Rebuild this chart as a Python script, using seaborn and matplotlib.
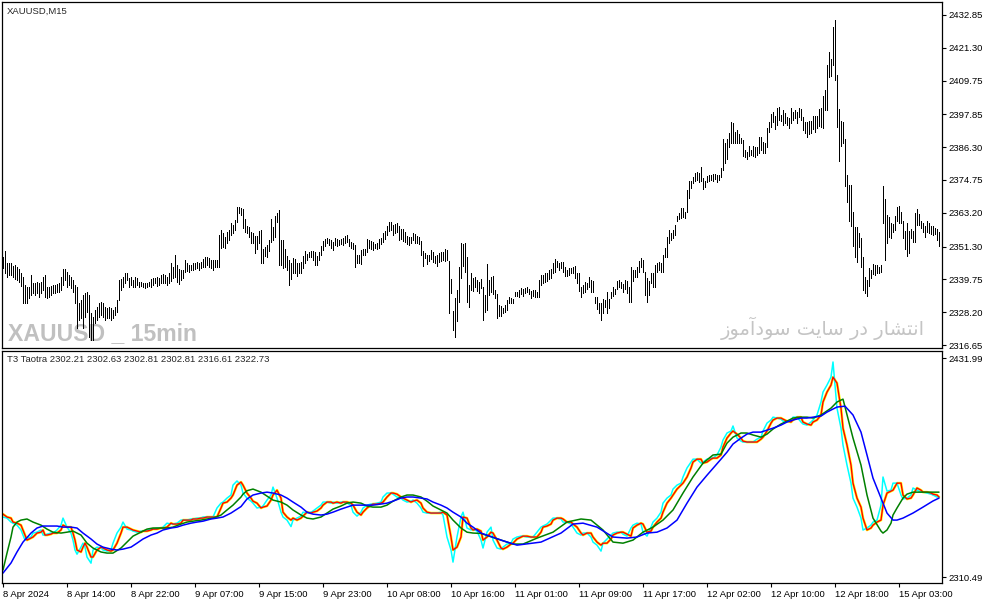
import numpy as np
import pandas as pd
import matplotlib
matplotlib.use("Agg")
import matplotlib.pyplot as plt
import seaborn as sns

# ---- price bars (M15) ----
bar_high = [
    2347.6, 2349.7, 2345.5, 2345.5, 2345.5, 2344.5, 2344.8, 2344.1, 2343.4, 2342.0,
    2340.6, 2337.8, 2337.1, 2337.1, 2341.3, 2338.5, 2338.5, 2338.8, 2338.5, 2338.8,
    2340.6, 2341.3, 2337.1, 2337.1, 2337.4, 2337.8, 2337.8, 2338.1, 2338.5, 2340.6,
    2343.4, 2343.4, 2342.4, 2341.3, 2340.6, 2339.5, 2337.8, 2337.1, 2331.4, 2332.5,
    2334.3, 2335.0, 2335.3, 2334.3, 2327.9, 2326.5, 2329.0, 2330.0, 2331.4, 2331.8,
    2331.4, 2330.0, 2329.7, 2330.0, 2329.7, 2329.0, 2330.0, 2332.5, 2339.5, 2339.9,
    2340.6, 2342.0, 2342.0, 2340.2, 2340.6, 2339.5, 2340.6, 2340.2, 2338.8, 2338.8,
    2338.5, 2338.5, 2338.5, 2338.8, 2339.9, 2340.2, 2340.2, 2340.6, 2340.2, 2341.3,
    2341.6, 2341.3, 2340.6, 2342.0, 2345.5, 2344.1, 2348.3, 2344.8, 2343.4, 2343.1,
    2343.1, 2346.6, 2345.5, 2344.8, 2344.8, 2345.5, 2345.5, 2345.9, 2345.5, 2345.9,
    2346.9, 2347.6, 2347.6, 2347.3, 2346.6, 2346.6, 2346.6, 2346.6, 2355.4, 2357.1,
    2356.1, 2354.7, 2356.4, 2357.1, 2359.6, 2358.9, 2360.7, 2365.2, 2365.2, 2364.9,
    2364.5, 2361.0, 2358.5, 2358.2, 2356.4, 2356.1, 2355.0, 2355.0, 2356.8, 2357.1,
    2350.5, 2351.2, 2351.9, 2353.6, 2361.0, 2358.2, 2362.1, 2363.1, 2364.2, 2353.6,
    2353.6, 2350.5, 2348.0, 2346.6, 2345.5, 2347.3, 2346.9, 2345.5, 2345.5, 2345.9,
    2348.0, 2349.7, 2348.7, 2349.4, 2349.7, 2349.7, 2349.4, 2348.0, 2349.4, 2351.5,
    2353.3, 2354.0, 2354.3, 2354.0, 2353.6, 2352.9, 2354.3, 2354.0, 2353.6, 2354.0,
    2354.3, 2355.0, 2355.4, 2354.0, 2352.9, 2352.6, 2351.9, 2348.3, 2348.3, 2350.1,
    2350.5, 2350.5, 2354.0, 2353.6, 2353.3, 2352.9, 2352.2, 2352.6, 2354.0, 2354.3,
    2356.1, 2356.8, 2358.5, 2360.0, 2360.0, 2358.9, 2359.3, 2359.6, 2358.5, 2357.5,
    2357.5, 2356.4, 2355.0, 2354.7, 2354.7, 2356.1, 2355.7, 2355.0, 2354.7, 2353.3,
    2349.7, 2349.0, 2348.3, 2348.3, 2350.1, 2349.4, 2348.0, 2348.3, 2349.0, 2349.4,
    2349.4, 2350.5, 2350.1, 2346.2, 2339.9, 2328.6, 2333.2, 2336.0, 2344.1, 2352.6,
    2352.2, 2352.6, 2347.6, 2337.8, 2342.0, 2340.2, 2340.6, 2339.5, 2338.8, 2339.9,
    2337.1, 2334.3, 2345.2, 2339.5, 2340.6, 2340.9, 2336.0, 2334.6, 2330.7, 2330.4,
    2329.7, 2330.7, 2332.5, 2333.6, 2333.2, 2332.9, 2335.3, 2335.3, 2336.0, 2336.7,
    2336.4, 2336.7, 2337.1, 2336.4, 2335.7, 2336.0, 2336.0, 2335.3, 2339.5, 2341.3,
    2341.3, 2342.0, 2342.0, 2343.1, 2343.4, 2345.5, 2346.9, 2346.2, 2345.5, 2345.9,
    2345.9, 2344.1, 2343.1, 2343.8, 2343.8, 2344.1, 2344.5, 2342.0, 2342.0, 2337.1,
    2337.8, 2338.8, 2338.5, 2340.6, 2339.5, 2339.2, 2333.6, 2333.6, 2331.4, 2331.4,
    2332.9, 2332.5, 2335.3, 2332.9, 2335.3, 2337.1, 2336.4, 2339.2, 2339.5, 2338.8,
    2338.1, 2339.5, 2339.2, 2337.1, 2344.1, 2343.1, 2343.1, 2344.1, 2346.2, 2347.3,
    2346.6, 2342.4, 2340.2, 2339.2, 2342.0, 2342.0, 2344.8, 2345.5, 2345.9, 2345.5,
    2348.3, 2350.8, 2354.7, 2357.1, 2356.1, 2357.1, 2358.9, 2362.1, 2363.1, 2364.9,
    2364.9, 2363.5, 2371.2, 2374.4, 2374.4, 2375.8, 2377.2, 2377.6, 2377.2, 2379.3,
    2375.4, 2374.4, 2376.1, 2376.5, 2376.5, 2376.8, 2376.8, 2376.5, 2376.5, 2379.0,
    2389.2, 2387.8, 2389.2, 2391.3, 2395.2, 2394.8, 2391.6, 2392.3, 2390.9, 2389.5,
    2388.8, 2385.3, 2384.6, 2386.7, 2385.3, 2386.7, 2386.4, 2386.4, 2389.9, 2389.9,
    2388.1, 2387.8, 2393.0, 2395.2, 2398.0, 2398.7, 2397.3, 2400.1, 2400.4, 2397.6,
    2399.4, 2398.3, 2396.9, 2396.6, 2400.1, 2398.7, 2399.4, 2398.7, 2400.1, 2399.7,
    2396.9, 2395.2, 2395.2, 2395.5, 2395.5, 2397.3, 2397.3, 2397.3, 2399.7, 2400.1,
    2404.3, 2406.4, 2415.2, 2419.8, 2417.3, 2428.6, 2431.1, 2411.7, 2399.7, 2395.5,
    2395.2, 2389.2, 2376.5, 2373.0, 2373.0, 2363.5, 2358.2, 2358.2, 2356.1, 2354.3,
    2347.6, 2340.6, 2339.5, 2343.8, 2343.1, 2345.2, 2344.8, 2344.8, 2344.1, 2344.8,
    2372.6, 2368.1, 2362.4, 2361.7, 2359.6, 2359.3, 2362.1, 2365.2, 2365.6, 2363.5,
    2360.3, 2356.8, 2359.6, 2356.8, 2357.5, 2356.8, 2363.1, 2364.5, 2362.8, 2360.3,
    2359.6, 2358.5, 2360.3, 2359.6, 2358.5, 2358.5, 2357.8, 2357.5, 2356.4,
]
bar_low = [
    2343.8, 2342.0, 2340.6, 2341.3, 2341.3, 2340.6, 2339.9, 2339.5, 2338.8, 2337.4,
    2331.4, 2331.4, 2331.4, 2333.2, 2334.3, 2335.0, 2334.3, 2335.0, 2333.6, 2335.0,
    2336.0, 2333.6, 2333.2, 2333.6, 2334.3, 2335.0, 2335.0, 2335.3, 2335.3, 2336.0,
    2337.8, 2339.5, 2337.1, 2337.8, 2336.7, 2335.3, 2331.4, 2322.6, 2325.5, 2326.2,
    2322.6, 2326.5, 2328.3, 2319.5, 2318.4, 2318.4, 2324.4, 2325.5, 2326.5, 2327.2,
    2326.5, 2325.5, 2326.2, 2326.2, 2325.5, 2326.2, 2327.2, 2328.3, 2332.5, 2336.0,
    2337.1, 2338.5, 2339.5, 2337.1, 2337.8, 2337.1, 2337.1, 2337.8, 2337.1, 2337.4,
    2337.1, 2336.7, 2337.1, 2337.4, 2337.1, 2337.8, 2338.5, 2337.4, 2337.8, 2338.5,
    2338.5, 2338.5, 2337.8, 2338.5, 2339.2, 2340.2, 2340.6, 2338.8, 2338.1, 2339.5,
    2340.2, 2342.4, 2342.7, 2342.4, 2343.1, 2343.1, 2343.4, 2343.8, 2343.1, 2343.8,
    2344.1, 2344.1, 2344.8, 2344.1, 2343.8, 2343.1, 2344.1, 2344.1, 2344.1, 2350.8,
    2351.2, 2350.8, 2352.6, 2353.6, 2355.4, 2356.1, 2357.1, 2360.0, 2363.1, 2362.4,
    2357.8, 2356.4, 2356.1, 2354.7, 2352.6, 2352.6, 2349.0, 2350.5, 2352.6, 2345.5,
    2345.5, 2348.0, 2347.6, 2349.7, 2352.9, 2353.6, 2354.7, 2360.0, 2344.8, 2344.8,
    2343.8, 2344.1, 2343.1, 2337.8, 2339.9, 2342.0, 2342.0, 2340.9, 2342.0, 2342.0,
    2343.8, 2345.5, 2346.6, 2347.6, 2347.6, 2346.6, 2344.8, 2344.8, 2346.6, 2348.3,
    2350.1, 2351.5, 2352.6, 2351.9, 2350.8, 2350.1, 2351.9, 2351.5, 2351.9, 2352.2,
    2351.9, 2352.6, 2352.9, 2351.5, 2350.8, 2350.5, 2344.1, 2345.5, 2345.5, 2345.2,
    2348.3, 2348.3, 2349.4, 2350.8, 2350.5, 2350.1, 2350.8, 2350.5, 2350.8, 2352.2,
    2352.9, 2354.0, 2355.4, 2356.8, 2357.1, 2355.4, 2356.1, 2356.4, 2353.6, 2354.0,
    2353.3, 2352.9, 2352.2, 2351.9, 2352.6, 2353.6, 2352.6, 2352.6, 2352.2, 2348.3,
    2344.5, 2347.3, 2345.2, 2346.2, 2346.9, 2345.9, 2345.5, 2344.5, 2345.9, 2346.2,
    2346.6, 2346.2, 2346.6, 2327.9, 2335.0, 2321.9, 2319.5, 2325.1, 2331.8, 2340.2,
    2344.5, 2342.4, 2331.8, 2330.0, 2336.0, 2335.7, 2337.1, 2335.7, 2335.0, 2336.7,
    2325.5, 2328.3, 2329.0, 2334.3, 2335.3, 2334.6, 2333.2, 2326.2, 2326.9, 2326.9,
    2327.9, 2328.3, 2329.0, 2331.4, 2331.4, 2331.4, 2333.9, 2333.9, 2333.6, 2334.6,
    2333.9, 2335.0, 2335.3, 2334.6, 2333.2, 2333.9, 2333.6, 2333.6, 2333.6, 2337.8,
    2338.5, 2338.8, 2339.2, 2339.9, 2340.2, 2342.0, 2342.4, 2344.1, 2343.1, 2343.8,
    2342.4, 2340.9, 2340.9, 2341.3, 2342.0, 2342.0, 2340.2, 2338.5, 2335.7, 2333.6,
    2335.0, 2335.3, 2336.4, 2337.1, 2335.3, 2335.3, 2331.4, 2329.3, 2327.9, 2325.5,
    2327.9, 2330.0, 2327.9, 2329.7, 2333.2, 2333.9, 2334.6, 2336.4, 2337.1, 2336.7,
    2335.3, 2336.4, 2335.0, 2331.8, 2331.8, 2339.2, 2340.6, 2340.6, 2342.4, 2344.1,
    2342.4, 2334.3, 2331.8, 2334.3, 2338.5, 2337.1, 2337.1, 2342.4, 2343.1, 2342.4,
    2342.4, 2347.6, 2347.6, 2352.6, 2353.6, 2354.3, 2355.4, 2360.3, 2361.0, 2361.4,
    2361.7, 2361.4, 2363.5, 2368.4, 2371.9, 2373.7, 2374.4, 2374.7, 2374.0, 2374.4,
    2371.6, 2372.3, 2374.0, 2374.4, 2374.7, 2374.4, 2375.1, 2374.0, 2374.7, 2375.8,
    2378.3, 2380.7, 2382.1, 2386.4, 2387.8, 2387.8, 2387.8, 2387.8, 2387.8, 2387.8,
    2383.2, 2382.8, 2382.1, 2383.2, 2383.5, 2383.2, 2382.8, 2383.5, 2384.2, 2385.3,
    2384.2, 2384.2, 2386.4, 2391.6, 2393.4, 2395.2, 2392.7, 2394.1, 2395.9, 2395.5,
    2394.1, 2394.8, 2394.1, 2393.0, 2394.8, 2395.9, 2396.6, 2394.8, 2396.9, 2395.9,
    2392.3, 2391.3, 2389.9, 2390.9, 2391.3, 2392.7, 2391.6, 2393.0, 2393.7, 2393.4,
    2393.0, 2399.4, 2399.4, 2411.0, 2411.3, 2415.2, 2409.9, 2393.4, 2381.4, 2386.7,
    2387.8, 2372.6, 2367.0, 2360.3, 2358.5, 2351.5, 2347.6, 2345.9, 2351.2, 2344.1,
    2336.0, 2335.0, 2333.9, 2337.4, 2340.2, 2341.6, 2341.3, 2342.0, 2342.0, 2342.4,
    2359.6, 2346.6, 2352.6, 2354.7, 2354.3, 2356.4, 2357.1, 2360.3, 2359.6, 2359.6,
    2354.3, 2350.5, 2348.0, 2349.0, 2354.3, 2352.9, 2352.9, 2358.9, 2358.9, 2357.8,
    2356.4, 2354.7, 2356.4, 2356.1, 2355.7, 2355.4, 2355.7, 2353.6, 2351.5,
]

# ---- T3 lines (indicator window), sampled positions are bar numbers ----
fast_idx = [
    0, 2, 4, 5, 7, 9, 10, 11, 12, 14,
    15, 17, 19, 20, 21, 22, 24, 25, 27, 29,
    30, 32, 34, 35, 36, 37, 39, 40, 41, 42,
    44, 45, 47, 49, 50, 52, 54, 55, 57, 59,
    60, 62, 64, 65, 67, 69, 70, 72, 74, 75,
    77, 79, 80, 82, 84, 85, 87, 89, 90, 92,
    94, 95, 97, 99, 100, 102, 104, 105, 107, 109,
    110, 112, 114, 115, 117, 119, 120, 122, 124, 125,
    127, 129, 130, 132, 134, 135, 137, 139, 140, 142,
    144, 145, 147, 149, 150, 152, 154, 155, 157, 159,
    160, 162, 164, 165, 167, 169, 170, 172, 174, 175,
    177, 179, 180, 182, 184, 185, 187, 189, 190, 192,
    194, 195, 197, 199, 200, 202, 204, 205, 207, 209,
    210, 212, 214, 215, 217, 219, 220, 222, 224, 225,
    227, 229, 230, 232, 234, 235, 237, 239, 240, 242,
    244, 245, 247, 249, 250, 252, 254, 255, 257, 259,
    260, 262, 264, 265, 267, 269, 270, 272, 274, 275,
    277, 279, 280, 282, 284, 285, 287, 289, 290, 292,
    294, 295, 297, 299, 300, 302, 304, 305, 307, 309,
    310, 312, 314, 315, 317, 319, 320, 322, 324, 325,
    327, 329, 330, 332, 334, 335, 337, 339, 340, 342,
    344, 345, 347, 349, 350, 352, 354, 355, 357, 359,
    360, 362, 364, 365, 367, 369, 370, 372, 374, 375,
    377, 379, 380, 382, 384, 385, 387, 389, 390, 392,
    394, 395, 397, 399, 400, 402, 404, 405, 407, 409,
    410, 412, 414, 415, 417, 419, 420, 422, 424, 425,
    427, 429, 430, 432, 434, 435, 437, 439, 440, 442,
    444, 445, 447, 449, 450, 452, 454, 455, 457, 459,
    460, 462, 464, 465, 467, 468,
]
red_vals = [
    2345.4, 2343.8, 2343.2, 2341.0, 2340.4, 2339.3, 2336.6, 2333.8, 2331.0, 2332.1,
    2332.7, 2334.9, 2335.4, 2336.6, 2333.8, 2333.8, 2334.3, 2334.9, 2334.9, 2336.6,
    2339.3, 2338.2, 2338.2, 2334.9, 2331.0, 2325.5, 2324.4, 2327.1, 2329.3, 2327.1,
    2321.6, 2321.6, 2325.5, 2327.1, 2326.6, 2325.5, 2324.9, 2325.5, 2329.3, 2334.9,
    2338.2, 2338.2, 2337.1, 2336.6, 2336.0, 2335.4, 2336.0, 2336.0, 2336.6, 2337.1,
    2337.1, 2337.7, 2337.7, 2338.2, 2340.4, 2339.9, 2339.9, 2340.4, 2342.1, 2342.1,
    2342.1, 2342.7, 2342.7, 2343.2, 2343.2, 2343.8, 2343.8, 2343.8, 2343.8, 2348.8,
    2351.5, 2352.1, 2354.3, 2356.0, 2361.5, 2363.2, 2361.5, 2357.1, 2354.3, 2352.6,
    2351.5, 2348.8, 2349.3, 2349.9, 2353.2, 2356.0, 2358.7, 2354.3, 2346.5, 2343.8,
    2342.1, 2343.2, 2342.1, 2343.2, 2344.3, 2346.5, 2346.0, 2346.5, 2347.1, 2348.8,
    2350.4, 2352.1, 2352.1, 2351.5, 2352.1, 2351.5, 2352.1, 2352.1, 2351.5, 2350.4,
    2346.5, 2344.9, 2346.5, 2348.8, 2350.4, 2351.0, 2351.0, 2351.5, 2352.1, 2354.9,
    2357.1, 2357.1, 2356.5, 2354.9, 2354.3, 2353.2, 2352.1, 2352.6, 2353.2, 2351.5,
    2348.8, 2346.5, 2346.0, 2346.0, 2346.0, 2346.0, 2346.5, 2344.9, 2332.7, 2325.5,
    2327.1, 2332.7, 2343.8, 2343.2, 2337.7, 2336.6, 2337.1, 2336.0, 2331.0, 2332.7,
    2335.4, 2334.9, 2331.0, 2326.6, 2326.0, 2327.1, 2328.8, 2329.3, 2331.6, 2332.7,
    2333.2, 2333.2, 2332.7, 2332.7, 2332.7, 2335.4, 2338.2, 2338.8, 2339.9, 2342.1,
    2343.2, 2343.2, 2342.7, 2341.0, 2341.0, 2339.9, 2338.2, 2334.9, 2333.8, 2334.9,
    2334.9, 2332.7, 2329.9, 2328.2, 2329.3, 2329.3, 2331.6, 2333.8, 2334.9, 2335.4,
    2335.4, 2334.3, 2333.2, 2337.7, 2339.3, 2340.4, 2339.9, 2335.4, 2336.0, 2338.2,
    2341.0, 2343.2, 2346.5, 2351.5, 2354.3, 2356.0, 2359.3, 2361.5, 2362.6, 2366.0,
    2371.0, 2374.3, 2375.9, 2375.9, 2373.7, 2374.3, 2375.9, 2376.5, 2376.5, 2378.2,
    2382.6, 2387.6, 2390.4, 2391.5, 2389.8, 2387.6, 2385.9, 2385.4, 2385.4, 2385.4,
    2385.4, 2387.0, 2388.1, 2391.5, 2395.9, 2397.6, 2398.7, 2398.7, 2398.1, 2397.0,
    2396.5, 2397.6, 2399.2, 2399.2, 2396.5, 2395.4, 2394.8, 2396.5, 2397.6, 2400.4,
    2407.6, 2413.1, 2417.0, 2421.4, 2418.1, 2404.2, 2393.1, 2383.7, 2372.6, 2362.6,
    2354.3, 2349.3, 2343.2, 2336.6, 2337.7, 2339.3, 2341.0, 2342.1, 2350.4, 2357.1,
    2358.2, 2358.7, 2362.6, 2362.6, 2356.0, 2353.8, 2354.3, 2356.0, 2359.9, 2358.7,
    2357.6, 2357.6, 2357.1, 2356.5, 2356.0, 2354.9,
]
cyan_vals = [
    2343.8, 2343.2, 2341.0, 2340.4, 2339.3, 2336.6, 2333.8, 2331.0, 2332.1, 2332.7,
    2334.9, 2335.4, 2336.6, 2333.8, 2333.8, 2334.3, 2334.9, 2334.9, 2336.6, 2339.3,
    2343.2, 2338.2, 2334.9, 2331.0, 2325.5, 2323.2, 2327.1, 2329.3, 2327.1, 2321.6,
    2318.2, 2325.5, 2327.1, 2326.6, 2325.5, 2324.9, 2325.5, 2329.3, 2334.9, 2338.2,
    2341.0, 2337.1, 2336.6, 2336.0, 2335.4, 2336.0, 2336.0, 2336.6, 2337.1, 2337.1,
    2337.7, 2337.7, 2338.2, 2340.4, 2339.9, 2339.9, 2340.4, 2342.1, 2342.1, 2342.1,
    2342.7, 2342.7, 2343.2, 2343.2, 2343.8, 2343.8, 2343.8, 2343.8, 2348.8, 2351.5,
    2352.1, 2354.3, 2356.0, 2361.5, 2363.8, 2361.5, 2357.1, 2354.3, 2352.6, 2351.5,
    2348.8, 2349.3, 2349.9, 2353.2, 2356.0, 2360.4, 2354.3, 2346.5, 2343.8, 2342.1,
    2338.5, 2342.1, 2343.2, 2344.3, 2346.5, 2346.0, 2346.5, 2347.1, 2348.8, 2350.4,
    2352.1, 2352.1, 2351.5, 2352.1, 2351.5, 2352.1, 2352.1, 2351.5, 2350.4, 2346.5,
    2344.3, 2346.5, 2348.8, 2350.4, 2351.0, 2351.0, 2351.5, 2352.1, 2354.9, 2357.1,
    2357.1, 2356.5, 2354.9, 2354.3, 2353.2, 2352.1, 2352.6, 2353.2, 2351.5, 2348.8,
    2346.5, 2346.0, 2346.0, 2346.0, 2346.0, 2346.5, 2344.9, 2332.7, 2325.5, 2318.8,
    2332.7, 2343.8, 2346.5, 2337.7, 2336.6, 2337.1, 2336.0, 2331.0, 2326.6, 2335.4,
    2338.2, 2331.0, 2326.6, 2326.0, 2327.1, 2328.8, 2329.3, 2331.6, 2332.7, 2333.2,
    2333.2, 2332.7, 2332.7, 2332.7, 2335.4, 2338.2, 2338.8, 2339.9, 2342.1, 2343.2,
    2343.2, 2342.7, 2341.0, 2341.0, 2339.9, 2338.2, 2334.9, 2333.8, 2334.9, 2334.9,
    2332.7, 2329.9, 2328.2, 2324.9, 2329.3, 2331.6, 2333.8, 2334.9, 2335.4, 2335.4,
    2334.3, 2333.2, 2337.7, 2339.3, 2340.4, 2339.9, 2335.4, 2333.2, 2338.2, 2341.0,
    2343.2, 2346.5, 2351.5, 2354.3, 2356.0, 2359.3, 2361.5, 2362.6, 2366.0, 2371.0,
    2374.3, 2375.9, 2375.9, 2373.7, 2374.3, 2375.9, 2376.5, 2376.5, 2378.2, 2382.6,
    2386.5, 2390.4, 2391.5, 2394.3, 2387.6, 2385.9, 2385.4, 2385.4, 2385.4, 2385.4,
    2387.0, 2388.1, 2391.5, 2395.9, 2397.6, 2399.2, 2398.7, 2398.1, 2397.0, 2396.5,
    2397.6, 2399.2, 2399.2, 2396.5, 2395.4, 2394.8, 2396.5, 2397.6, 2400.4, 2407.6,
    2413.1, 2417.0, 2421.4, 2429.8, 2404.2, 2393.1, 2383.7, 2372.6, 2362.6, 2354.3,
    2349.3, 2343.2, 2336.6, 2337.7, 2339.3, 2341.0, 2342.1, 2350.4, 2366.0, 2358.2,
    2358.7, 2362.6, 2362.6, 2356.0, 2353.8, 2354.3, 2356.0, 2359.9, 2358.7, 2357.6,
    2357.6, 2357.1, 2356.5, 2356.0, 2354.9, 2354.9,
]
green_idx = [
    0, 2, 4, 5, 7, 9, 12, 15, 19, 22, 25, 29, 32, 35, 39, 42, 45, 49, 52, 55,
    59, 62, 65, 69, 72, 75, 82, 85, 89, 92, 95, 99, 102, 105, 109, 112, 115, 119, 120, 122,
    125, 129, 132, 135, 139, 142, 145, 149, 152, 155, 159, 162, 165, 169, 172, 175, 179, 182, 185, 189,
    192, 195, 199, 202, 205, 209, 212, 215, 219, 222, 225, 229, 232, 235, 239, 249, 255, 260, 267, 275,
    282, 289, 294, 300, 305, 310, 315, 320, 325, 330, 335, 340, 345, 350, 355, 359, 362, 365, 369, 372,
    375, 379, 382, 385, 389, 392, 395, 399, 402, 405, 409, 414, 417, 420, 425, 429, 432, 435, 439, 440,
    442, 444, 445, 447, 450, 452, 455, 468,
]
green_vals = [
    2314.4, 2323.8, 2332.7, 2338.2, 2341.0, 2342.1, 2342.7, 2341.0, 2339.3, 2337.1,
    2335.4, 2334.9, 2335.4, 2336.0, 2333.8, 2329.3, 2326.6, 2324.4, 2323.8, 2323.8,
    2326.6, 2329.9, 2333.2, 2335.4, 2337.1, 2337.7, 2337.7, 2338.2, 2339.9, 2341.0,
    2341.5, 2342.1, 2342.7, 2343.2, 2344.9, 2347.7, 2350.4, 2354.9, 2356.5, 2358.4,
    2359.3, 2357.6, 2355.4, 2353.2, 2352.1, 2350.4, 2347.7, 2344.9, 2343.2, 2342.7,
    2343.8, 2346.0, 2348.2, 2349.9, 2351.5, 2352.1, 2351.5, 2349.9, 2349.3, 2349.3,
    2350.4, 2352.6, 2354.9, 2356.0, 2356.0, 2354.9, 2352.6, 2349.9, 2347.7, 2346.0,
    2342.1, 2337.7, 2335.4, 2334.9, 2334.7, 2331.0, 2328.8, 2328.8, 2332.1, 2335.4,
    2341.0, 2342.7, 2342.1, 2336.6, 2329.9, 2329.3, 2331.0, 2335.4, 2338.2, 2342.1,
    2347.7, 2357.1, 2366.0, 2373.7, 2378.2, 2378.7, 2384.8, 2388.1, 2390.4, 2390.4,
    2389.3, 2388.1, 2389.8, 2392.6, 2395.4, 2397.0, 2398.7, 2399.2, 2399.2, 2398.7,
    2400.4, 2404.2, 2407.6, 2409.2, 2387.6, 2372.6, 2356.0, 2343.2, 2336.0, 2334.9,
    2336.6, 2340.4, 2344.9, 2348.8, 2354.3, 2356.5, 2357.6, 2357.6,
]
blue_idx = [
    0, 4, 7, 10, 14, 17, 20, 24, 27, 30, 34, 37, 40, 44, 47, 50, 54, 57, 60, 64,
    67, 70, 74, 77, 80, 84, 87, 90, 94, 97, 100, 104, 107, 110, 114, 119, 122, 125, 129, 132,
    135, 139, 142, 145, 149, 152, 155, 159, 162, 165, 169, 172, 175, 179, 182, 185, 189, 192, 195, 199,
    202, 205, 209, 212, 215, 219, 222, 225, 229, 232, 235, 239, 249, 257, 269, 279, 285, 290, 297, 305,
    312, 317, 322, 327, 332, 337, 342, 347, 352, 359, 362, 365, 369, 372, 375, 379, 382, 385, 389, 392,
    395, 399, 402, 405, 409, 412, 415, 417, 421, 425, 429, 432, 435, 439, 442, 445, 447, 450, 455, 460,
    465, 468,
]
blue_vals = [
    2312.7, 2318.3, 2324.4, 2329.9, 2334.9, 2337.7, 2338.8, 2338.8, 2338.8, 2338.2,
    2338.2, 2337.7, 2334.9, 2331.6, 2328.8, 2327.1, 2326.0, 2325.5, 2326.0, 2327.1,
    2329.3, 2331.6, 2333.8, 2334.9, 2336.6, 2337.7, 2338.2, 2339.3, 2340.4, 2341.0,
    2341.5, 2342.7, 2343.2, 2343.8, 2346.0, 2349.6, 2353.8, 2356.0, 2357.1, 2357.6,
    2357.1, 2356.0, 2354.3, 2352.1, 2349.3, 2346.5, 2345.4, 2344.9, 2345.4, 2346.5,
    2348.2, 2349.3, 2350.4, 2350.4, 2350.4, 2350.4, 2351.0, 2351.5, 2352.6, 2354.3,
    2354.9, 2354.9, 2354.3, 2353.8, 2352.1, 2350.4, 2348.8, 2346.5, 2343.8, 2340.4,
    2338.2, 2334.9, 2331.0, 2328.2, 2329.9, 2334.9, 2339.9, 2340.4, 2338.2, 2332.7,
    2332.1, 2332.7, 2334.9, 2335.4, 2337.7, 2342.1, 2351.5, 2360.4, 2367.0, 2375.9,
    2379.8, 2384.3, 2387.6, 2389.8, 2390.9, 2390.9, 2392.0, 2393.1, 2394.8, 2396.5,
    2397.6, 2398.7, 2398.7, 2399.2, 2399.8, 2402.0, 2403.7, 2404.8, 2405.3, 2400.4,
    2390.9, 2378.2, 2365.4, 2354.3, 2346.0, 2342.1, 2342.1, 2343.2, 2346.0, 2349.3,
    2352.7, 2354.3,
]

# ---- axis texts ----
price_ticks = [2432.85, 2421.30, 2409.75, 2397.85, 2386.30, 2374.75,
               2363.20, 2351.30, 2339.75, 2328.20, 2316.65]
t3_ticks = [2431.99, 2310.49]
time_tick_bars = [0, 32, 64, 96, 128, 160, 192, 224, 256, 288, 320, 352, 384, 416, 448]
time_tick_labels = ["8 Apr 2024", "8 Apr 14:00", "8 Apr 22:00", "9 Apr 07:00",
                    "9 Apr 15:00", "9 Apr 23:00", "10 Apr 08:00", "10 Apr 16:00",
                    "11 Apr 01:00", "11 Apr 09:00", "11 Apr 17:00", "12 Apr 02:00",
                    "12 Apr 10:00", "12 Apr 18:00", "15 Apr 03:00"]
t3_legend = "T3 Taotra 2302.21 2302.63 2302.81 2302.81 2316.61 2322.73"
# "انتشار در سایت سودآموز" written with Arabic presentation forms in visual order
site_mark = ("\uFEAF\uFEEE\uFEE3\uFE81\uFEA9\uFEEE\uFEB3 \uFE96\uFEF3\uFE8E\uFEB3 "
             "\uFEAD\uFEA9 \uFEAD\uFE8E\uFEB8\uFE98\uFEE7\uFE8D")

assert len(bar_high) == len(bar_low)
assert len(fast_idx) == len(red_vals) == len(cyan_vals)
assert len(green_idx) == len(green_vals)
assert len(blue_idx) == len(blue_vals)

sns.set_style("white")
plt.rcParams["font.family"] = ["Liberation Sans", "DejaVu Sans"]

W, H = 987, 605
fig = plt.figure(figsize=(W / 100, H / 100), dpi=100)
ax_top = fig.add_axes([2 / W, 1 - 348 / H, 940 / W, 346 / H])
ax_low = fig.add_axes([2 / W, 1 - 583 / H, 940 / W, 232 / H])

# watermarks sit under the price bars
ax_top.text(8 / W, 1 - 340 / H, "XAUUSD _ 15min", transform=fig.transFigure,
            fontsize=16.6, fontweight="bold", family=["Liberation Sans", "DejaVu Sans"],
            color="#c0c0c0", va="baseline", ha="left", zorder=0)
ax_top.text(925 / W, 1 - 335 / H, site_mark, transform=fig.transFigure,
            fontsize=14, family=["DejaVu Sans"], color="#c4c4c4",
            va="baseline", ha="right", zorder=0)

bars = pd.DataFrame({"bar": np.arange(len(bar_high)), "high": bar_high, "low": bar_low})
ax_top.vlines(bars["bar"], bars["low"], bars["high"], color="black",
              linewidth=0.72, antialiased=False, zorder=2)

fast = pd.DataFrame({"bar": fast_idx, "cyan": cyan_vals, "red": red_vals})
sns.lineplot(data=fast, x="bar", y="red", color="#ffff00", linewidth=1.9, ax=ax_low)
sns.lineplot(data=fast, x="bar", y="cyan", color="#00ffff", linewidth=1.1, ax=ax_low)
sns.lineplot(data=fast, x="bar", y="red", color="#ff0000", linewidth=1.0, ax=ax_low)
sns.lineplot(x=green_idx, y=green_vals, color="#008000", linewidth=1.1, ax=ax_low)
sns.lineplot(x=blue_idx, y=blue_vals, color="#0000ff", linewidth=1.1, ax=ax_low)

for ax in (ax_top, ax_low):
    ax.set_xlim(-0.5, 469.5)
    ax.set_xlabel("")
    ax.set_ylabel("")
    for s in ax.spines.values():
        s.set_visible(True)
        s.set_color("black")
        s.set_linewidth(0.9)
    ax.yaxis.tick_right()
    ax.tick_params(axis="y", direction="out", length=3, width=0.8, pad=2,
                   labelsize=6.8, colors="black")

ax_top.set_ylim(2315.6, 2437.4)
ax_top.set_yticks(price_ticks, [f"{v:.2f}" for v in price_ticks])
ax_top.set_xticks([])

ax_low.set_ylim(2307.2, 2435.9)
ax_low.set_yticks(t3_ticks, [f"{v:.2f}" for v in t3_ticks])
ax_low.set_xticks(time_tick_bars, time_tick_labels)
ax_low.tick_params(axis="x", direction="out", length=3, width=0.8, pad=2,
                   labelsize=6.8, colors="black", bottom=True)
for lbl in ax_low.get_xticklabels():
    lbl.set_horizontalalignment("left")

fig.text(7 / W, 1 - 11 / H, "XAUUSD,M15", fontsize=6.8, va="center", ha="left")
fig.text(7 / W, 1 - 359 / H, t3_legend, fontsize=6.8, va="center", ha="left")

fig.savefig("out.png", dpi=100)
